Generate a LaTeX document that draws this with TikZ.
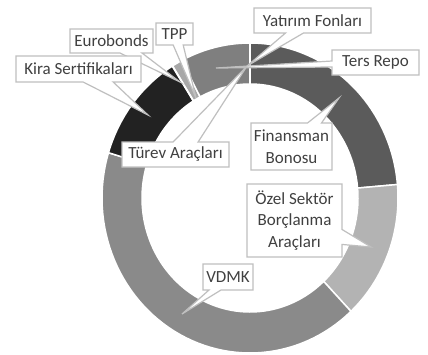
\documentclass[tikz,border=0pt]{standalone}
\usepackage{fontspec}
\setmainfont{Carlito}
\usetikzlibrary{shapes.callouts}
\definecolor{cFin}{HTML}{5B5B5B}
\definecolor{cOzel}{HTML}{B3B3B3}
\definecolor{cVdmk}{HTML}{8A8A8A}
\definecolor{cKira}{HTML}{222222}
\definecolor{cTpp}{HTML}{A8A8A8}
\definecolor{cTers}{HTML}{7F7F7F}
\definecolor{boxgray}{HTML}{BFBFBF}
\definecolor{txtgray}{HTML}{404040}
\newcommand\donutseg[3]{\fill[#3, draw=white, line width=1.5pt] plot[domain=#1:#2, samples=60] ({250+148*cos(\x)},{198-155*sin(\x)}) -- plot[domain=#2:#1, samples=60] ({250+108*cos(\x)},{198-114*sin(\x)}) -- cycle;}
\begin{document}
\begin{tikzpicture}[x=1pt,y=-1pt,
  lbl/.style={rectangle callout, fill=white, draw=boxgray, line width=1.2pt,
    text=txtgray, font=\fontsize{17}{21.5}\selectfont, align=center, inner sep=0pt}]
\useasboundingbox (0,0) rectangle (428,354);
\fill[white] (0,0) rectangle (428,354);
% donut slices (clockwise from top)
\donutseg{5}{90}{cFin}
\donutseg{-47}{5}{cOzel}
\donutseg{163}{313}{cVdmk}
\donutseg{121.5}{163}{cKira}
\donutseg{117.5}{121.5}{cTpp}
\donutseg{90}{117.5}{cTers}
\draw[white, line width=2.5pt] (250,85) -- (250,43);
\draw[white, line width=1.5pt] ({250+106*cos(121.7)},{198-112*sin(121.7)}) -- ({250+150*cos(121.7)},{198-157*sin(121.7)});
% pointer tips
\coordinate (tKira) at (148,115);
\coordinate (tEuro) at (180,82);
\coordinate (tTpp) at (196,98);
\coordinate (tYat) at (247,66);
\coordinate (tTers) at (216,68);
\coordinate (tTurev) at (247,66);
\coordinate (tFin) at (339,98);
\coordinate (tOzel) at (371,247);
\coordinate (tVdmk) at (182,314);
% labels
\node[lbl, minimum width=83pt, minimum height=24pt, callout absolute pointer={(tEuro)}, callout pointer width=22pt] (euro) at (111.5,41) {Eurobonds};
\node[lbl, minimum width=125pt, minimum height=26pt, callout absolute pointer={(tKira)}, callout pointer width=30pt] (kira) at (78.5,69) {Kira Sertifikaları};
\node[lbl, minimum width=37pt, minimum height=22pt, callout absolute pointer={(tTpp)}, callout pointer width=10pt] (tpp) at (174.5,34) {TPP};
\node[lbl, minimum width=107pt, minimum height=25pt, callout absolute pointer={(tTurev)}, callout pointer width=25pt] (turev) at (175.5,154.5) {Türev Araçları};
\node[lbl, minimum width=87pt, minimum height=25pt, callout absolute pointer={(tTers)}, callout pointer width=6pt] (ters) at (375.5,62.5) {Ters Repo};
\node[lbl, minimum width=117pt, minimum height=25pt, callout absolute pointer={(tYat)}, callout pointer width=18pt] (yat) at (312.5,20.5) {Yatırım Fonları};
\node[lbl, minimum width=81pt, minimum height=47pt, callout absolute pointer={(tFin)}, callout pointer width=14pt] (fin) at (291.5,146.5) {Finansman\\Bonosu};
\node[lbl, minimum width=95pt, minimum height=73pt, callout absolute pointer={(tOzel)}, callout pointer width=15pt] (ozel) at (294.5,220.5) {Özel Sektör\\Borçlanma\\Araçları};
\node[lbl, minimum width=50pt, minimum height=26pt, callout absolute pointer={(tVdmk)}, callout pointer width=12pt] (vdmk) at (228,277) {VDMK};
\end{tikzpicture}
\end{document}
